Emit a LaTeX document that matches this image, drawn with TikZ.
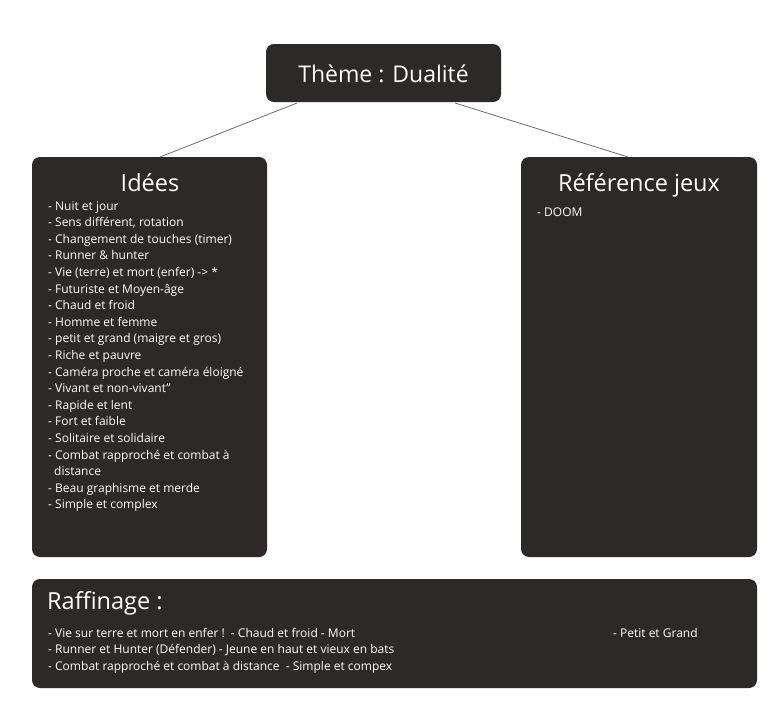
\documentclass[tikz,border=0pt]{standalone}
\usepackage{fontspec}
\setmainfont{Open Sans}
\definecolor{boxfill}{RGB}{45,41,41}
\definecolor{linegray}{RGB}{110,110,110}
\begin{document}
\begin{tikzpicture}[x=1pt,y=-1pt,
  card/.style={fill=boxfill,draw=none,rounded corners=8pt},
  conn/.style={draw=linegray,line width=0.8pt},
  listtxt/.style={text=white,anchor=north west,align=left,inner sep=0pt,font=\fontsize{12}{16.6}\selectfont},
  titletxt/.style={text=white,inner sep=0pt}]
\useasboundingbox (0,0) rectangle (781,705);
\fill[white] (0,0) rectangle (781,705);
\path[card] (266,44) rectangle (501,102);
\node[titletxt,font=\fontsize{23}{26}\selectfont] (theme) at (383.5,74) {Thème : Dualité};
\coordinate (themeL) at (297,103);
\coordinate (themeR) at (455,103);
\path[card] (32,157) rectangle (267,557);
\node[titletxt,font=\fontsize{23.5}{26}\selectfont] (idees) at (150,183) {Idées};
\coordinate (ideesT) at (160,157);
\node[listtxt] (ideeslist) at (48,201) {- Nuit et jour\\
- Sens différent, rotation\\
- Changement de touches (timer)\\
- Runner \& hunter\\
- Vie (terre) et mort (enfer) -> *\\
- Futuriste et Moyen-âge\\
- Chaud et froid\\
- Homme et femme\\
- petit et grand (maigre et gros)\\
- Riche et pauvre\\
- Caméra proche et caméra éloigné\\
- Vivant et non-vivant"\\
- Rapide et lent\\
- Fort et faible\\
- Solitaire et solidaire\\
- Combat rapproché et combat à\\
\hspace*{6pt}distance\\
- Beau graphisme et merde\\
- Simple et complex};
\path[card] (521,157) rectangle (757,557);
\node[titletxt,font=\fontsize{23.5}{26}\selectfont] (refs) at (639,185) {Référence jeux};
\coordinate (refsT) at (628,157);
\node[listtxt] (doom) at (537,207.5) {- DOOM};
\path[card] (32,579) rectangle (757,688);
\node[titletxt,anchor=west,font=\fontsize{23.5}{26}\selectfont] (raff) at (47,603) {Raffinage :};
\node[listtxt] (rafflist) at (48,628) {- Vie sur terre et mort en enfer !\ \ - Chaud et froid - Mort\\
- Runner et Hunter (Défender) - Jeune en haut et vieux en bats\\
- Combat rapproché et combat à distance\ \ - Simple et compex};
\node[listtxt] (petit) at (613,628) {- Petit et Grand};
\draw[conn] (themeL) -- (ideesT);
\draw[conn] (themeR) -- (refsT);
\end{tikzpicture}
\end{document}
